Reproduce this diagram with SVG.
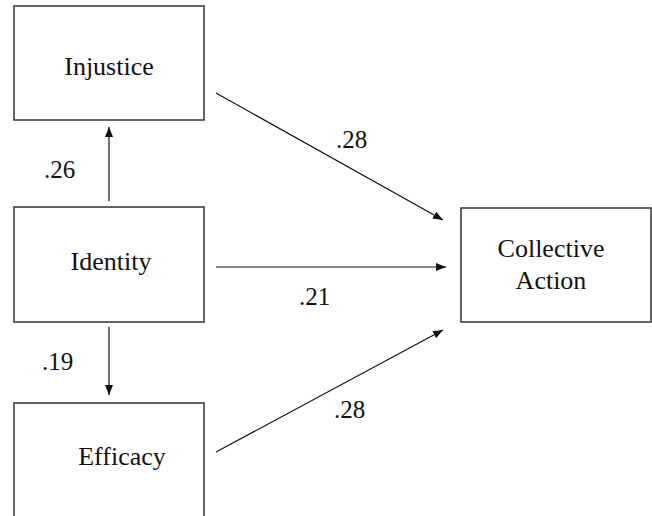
<svg xmlns="http://www.w3.org/2000/svg" width="652" height="516" viewBox="0 0 652 516">
<style>
.box{fill:#fff;stroke:#333;stroke-width:1.5}
.t{font-size:26px;fill:#111;text-anchor:middle}
.l{font-size:25px;fill:#111}
.c{stroke:#111;stroke-width:1.2;fill:none;marker-end:url(#ah)}
</style>
<defs>
<marker id="ah" viewBox="0 0 10 8" refX="10" refY="4" markerWidth="10" markerHeight="8" markerUnits="userSpaceOnUse" orient="auto">
<path d="M0,0 L10,4 L0,8 Z" fill="#111"/>
</marker>
</defs>
<rect width="652" height="516" fill="#fff"/>
<g font-family="Liberation Serif, DejaVu Serif, serif">
<g id="injustice"><rect class="box" x="14" y="6" width="190" height="114"/><text class="t" x="109" y="75">Injustice</text></g>
<g id="identity"><rect class="box" x="14" y="207" width="190" height="115"/><text class="t" x="111" y="270">Identity</text></g>
<g id="efficacy"><rect class="box" x="14" y="403" width="190" height="120"/><text class="t" x="122" y="465">Efficacy</text></g>
<g id="collective"><rect class="box" x="461" y="208" width="190" height="114"/><text class="t" x="551" y="257">Collective</text><text class="t" x="551" y="289">Action</text></g>
<g id="connectors">
<line class="c" x1="109" y1="201" x2="109" y2="127"/>
<line class="c" x1="109" y1="327" x2="109" y2="395"/>
<line class="c" x1="216" y1="93" x2="443" y2="220"/>
<line class="c" x1="216" y1="267" x2="446" y2="267"/>
<line class="c" x1="216" y1="452" x2="443" y2="330"/>
<text class="l" x="336" y="148">.28</text>
<text class="l" x="44" y="178">.26</text>
<text class="l" x="299" y="305">.21</text>
<text class="l" x="42" y="370">.19</text>
<text class="l" x="334" y="418">.28</text>
</g>
</g>
</svg>
